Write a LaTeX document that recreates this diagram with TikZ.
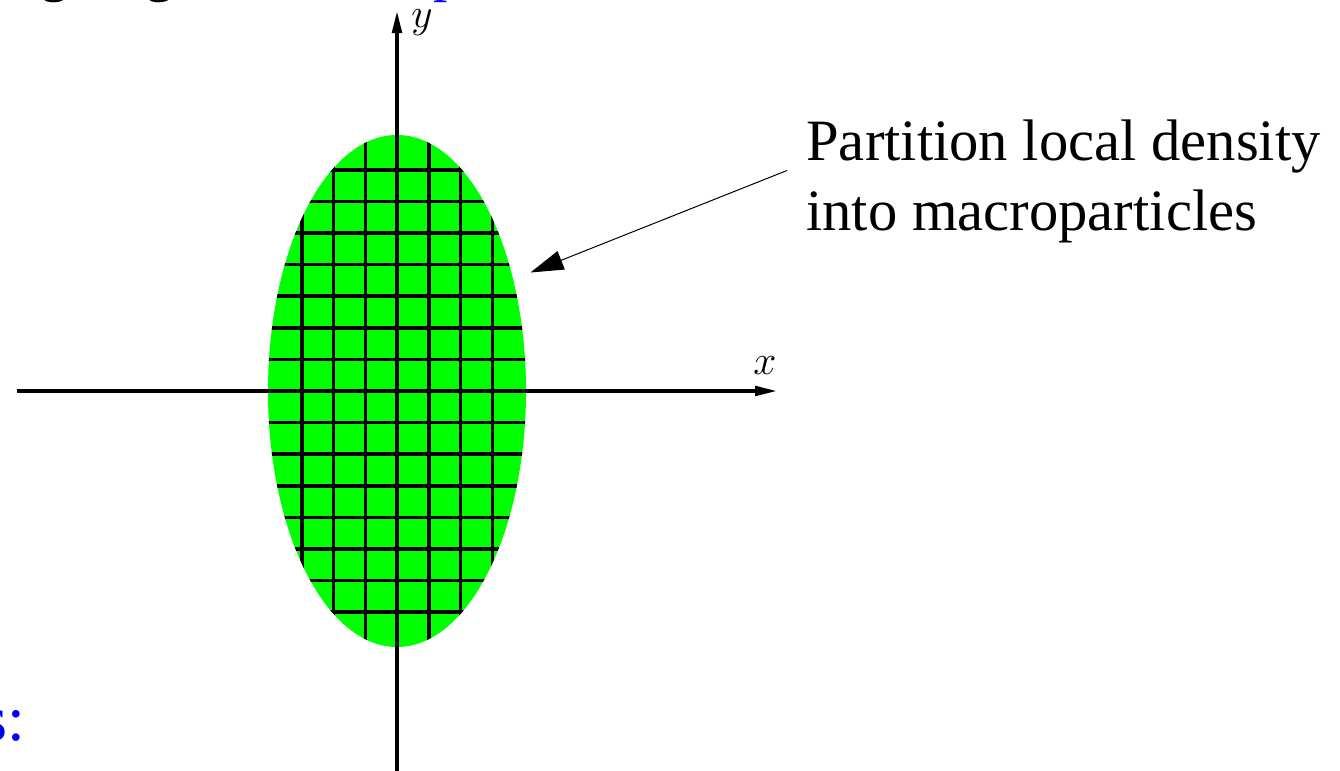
\documentclass[tikz,border=0pt]{standalone}
\usepackage{fontspec}
\setmainfont{Liberation Serif}
\usetikzlibrary{arrows.meta}
\definecolor{blobgreen}{RGB}{0,255,0}
\definecolor{textblue}{RGB}{0,0,255}
\tikzset{
  axisline/.style={line width=1.7pt, -{Triangle[length=11pt,width=4.8pt]}},
  gridline/.style={line width=1.75pt},
  callout/.style={line width=0.5pt, -{Triangle[length=16.5pt,width=9.8pt]}},
  axislabel/.style={inner sep=0pt, font=\fontsize{20}{24}\selectfont},
  fragment/.style={inner sep=0pt, anchor=base west, font=\fontsize{28.5}{34}\selectfont},
}
\begin{document}
\begin{tikzpicture}[x=0.5pt, y=-0.5pt]
\useasboundingbox (0,0) rectangle (1340,771);
\clip (0,0) rectangle (1340,771);
% clipped text fragments from surrounding page
\node[fragment] (fragA) at (40.3,-9.7) {g};
\node[fragment] (fragB) at (145.3,-9.7) {g};
\node[fragment, text=textblue] (fragC) at (433.5,-9.7) {p};
\node[inner sep=0pt, anchor=base east, text=textblue, font=\fontsize{32}{38}\selectfont] (fragD) at (26,740) {s:};
% density blob
\fill[blobgreen] (397,391) ellipse [x radius=129, y radius=256];
\begin{scope}
  \clip (397,391) ellipse [x radius=129, y radius=256];
  \foreach \k in {-3,...,3} {
    \draw[gridline] ({397+\k*31.75},100) -- ({397+\k*31.75},700);
  }
  \foreach \k in {-7,...,7} {
    \draw[gridline] (250,{391+\k*31.6}) -- (550,{391+\k*31.6});
  }
\end{scope}
% axes
\coordinate (xstart) at (17,391);
\coordinate (xend) at (777,391);
\coordinate (ystart) at (397,780);
\coordinate (yend) at (397,11);
\draw[axisline] (xstart) -- (xend);
\draw[axisline] (ystart) -- (yend);
\node[axislabel] (xlab) at (765,366) {$x$};
\node[axislabel] (ylab) at (422,23) {$y$};
% annotation
\node[inner sep=0pt, anchor=base west, align=left, font=\fontsize{29.3}{35}\selectfont] (note) at (806,230) {Partition local density\\into macroparticles};
\coordinate (astart) at (787,170.5);
\coordinate (atip) at (530.5,272.5);
\draw[callout] (astart) -- (atip);
\end{tikzpicture}
\end{document}
